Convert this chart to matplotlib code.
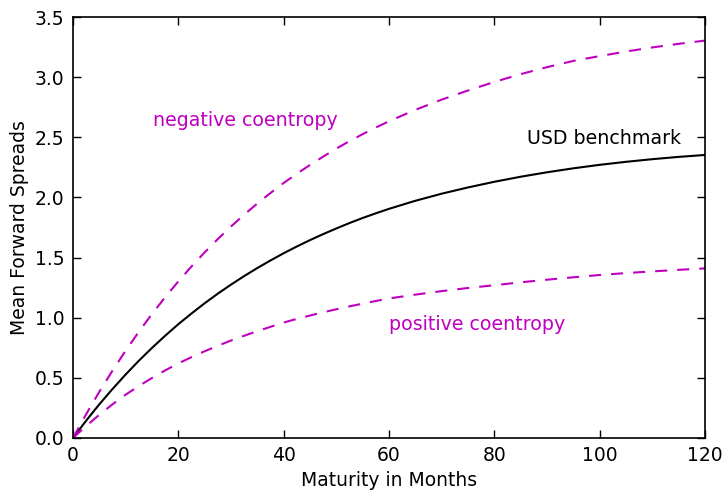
import matplotlib
matplotlib.use("Agg")
import matplotlib.pyplot as plt

maturity = [0, 2.5, 5, 7.5, 10, 12.5, 15, 17.5, 20, 22.5, 25, 27.5, 30, 32.5, 35, 37.5, 40,
            42.5, 45, 47.5, 50, 52.5, 55, 57.5, 60, 65, 70, 75, 80, 85, 90, 95, 100, 105, 110, 115, 120]
usd_benchmark = [0.0, 0.144, 0.280, 0.407, 0.528, 0.642, 0.749, 0.850, 0.946, 1.035, 1.120, 1.200, 1.275,
                 1.346, 1.413, 1.476, 1.536, 1.592, 1.645, 1.695, 1.742, 1.787, 1.829, 1.868, 1.905,
                 1.972, 2.031, 2.083, 2.130, 2.172, 2.209, 2.242, 2.271, 2.296, 2.318, 2.337, 2.353]
negative_coentropy = [0.0, 0.198, 0.384, 0.560, 0.726, 0.883, 1.031, 1.170, 1.302, 1.426, 1.543, 1.654, 1.758,
                      1.857, 1.949, 2.037, 2.120, 2.197, 2.270, 2.339, 2.406, 2.468, 2.526, 2.581, 2.633,
                      2.728, 2.813, 2.889, 2.960, 3.025, 3.083, 3.135, 3.175, 3.213, 3.247, 3.277, 3.304]
positive_coentropy = [0.0, 0.100, 0.193, 0.280, 0.360, 0.432, 0.499, 0.562, 0.620, 0.672, 0.721, 0.767, 0.810,
                      0.850, 0.888, 0.924, 0.960, 0.990, 1.018, 1.045, 1.070, 1.094, 1.117, 1.139, 1.160,
                      1.192, 1.221, 1.247, 1.270, 1.294, 1.316, 1.336, 1.355, 1.371, 1.385, 1.398, 1.410]

fig = plt.figure(figsize=(7.27, 4.93), dpi=100)
ax = fig.add_axes([0.1004, 0.1116, 0.8693, 0.8539])
mag = (0.75, 0, 0.75)
ax.plot(maturity, usd_benchmark, color='black', lw=1.5)
ax.plot(maturity, negative_coentropy, color=mag, lw=1.5, dashes=(5.8, 4.8))
ax.plot(maturity, positive_coentropy, color=mag, lw=1.5, dashes=(5.8, 4.8))

ax.set_xlim(0, 120)
ax.set_ylim(0, 3.5)
ax.set_xticks(range(0, 121, 20))
ax.set_yticks([0.0, 0.5, 1.0, 1.5, 2.0, 2.5, 3.0, 3.5])
ax.set_yticklabels(['0.0', '0.5', '1.0', '1.5', '2.0', '2.5', '3.0', '3.5'])
ax.tick_params(direction='in', top=True, right=True, length=6, width=1, labelsize=13.5, pad=6)
for s in ax.spines.values():
    s.set_linewidth(1.2)
ax.set_xlabel('Maturity in Months', fontsize=13.5)
ax.set_ylabel('Mean Forward Spreads', fontsize=13.5)

ax.text(15.2, 2.64, 'negative coentropy', color=mag, fontsize=13.7, va='center', ha='left')
ax.text(86.2, 2.49, 'USD benchmark', color='black', fontsize=13.7, va='center', ha='left')
ax.text(60.0, 0.94, 'positive coentropy', color=mag, fontsize=13.7, va='center', ha='left')

fig.savefig('out.png', dpi=100)
